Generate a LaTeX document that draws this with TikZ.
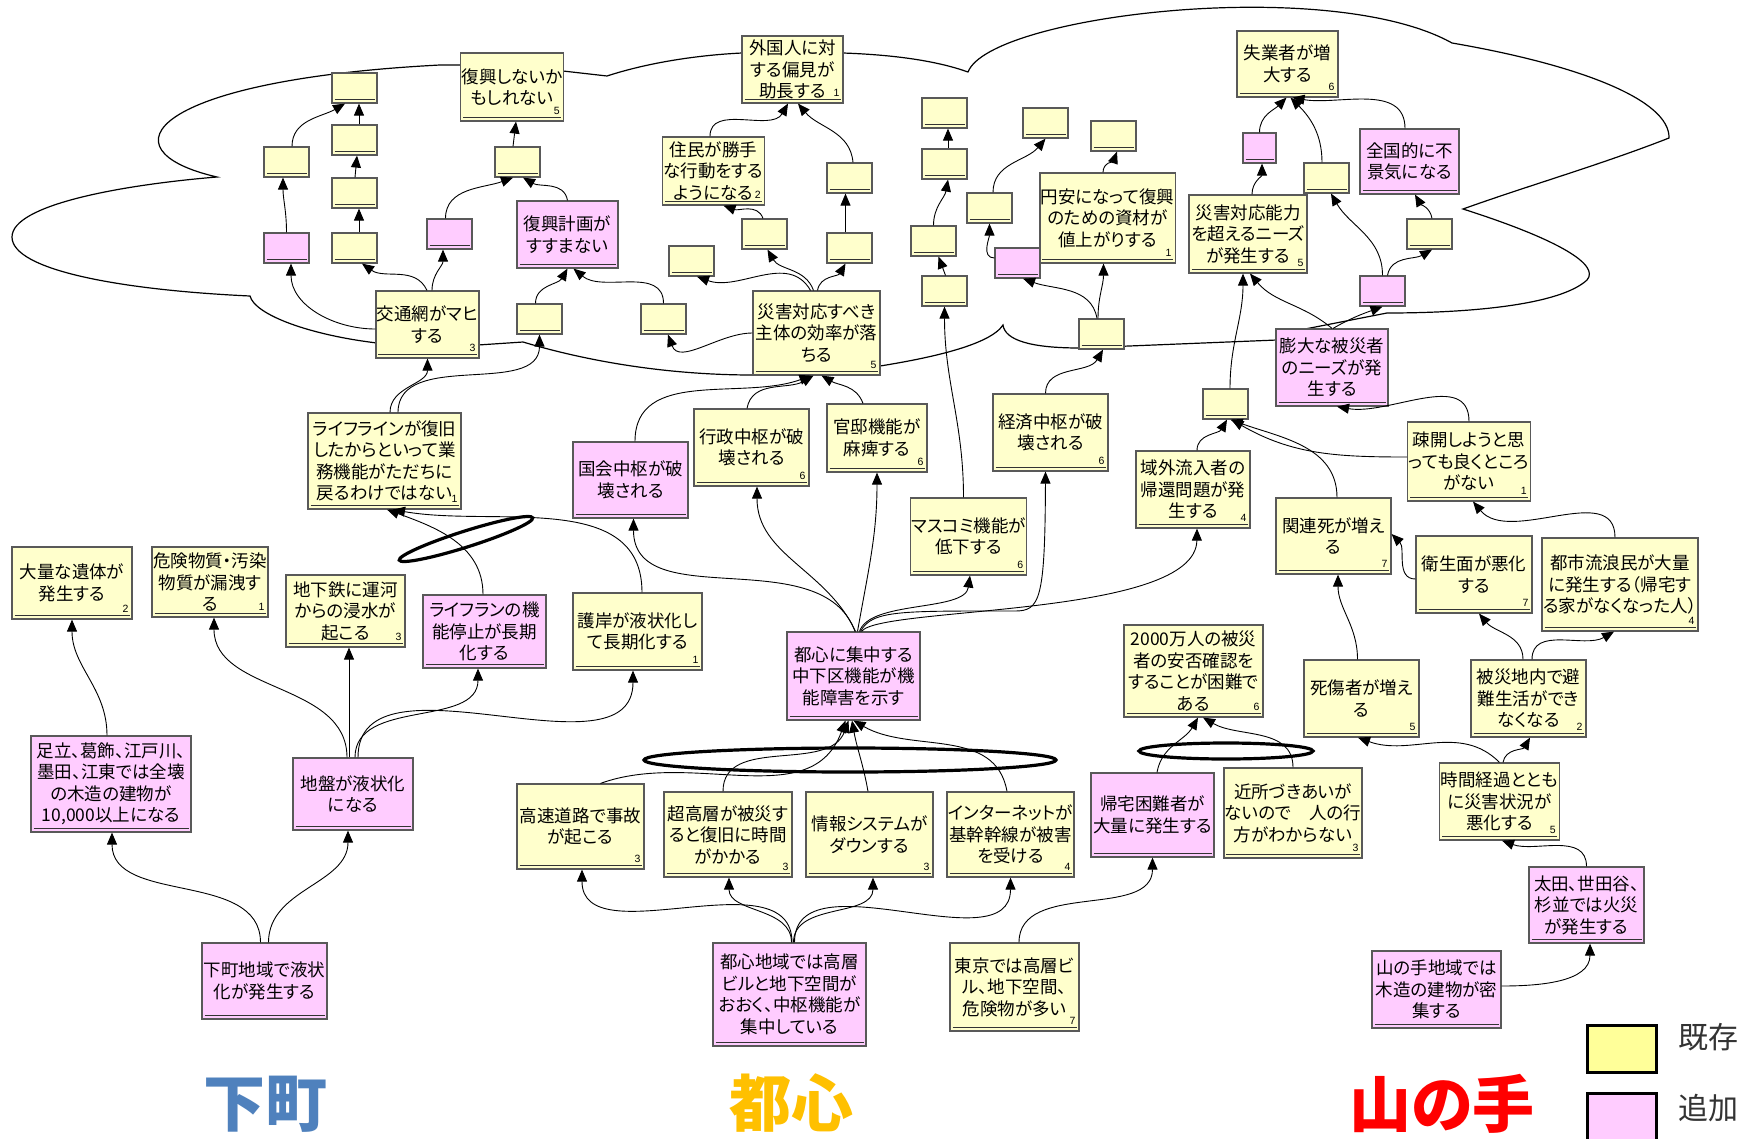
\documentclass[tikz,border=0pt]{standalone}
\usepackage{fontspec}
\setmainfont{Noto Sans CJK JP}[RawFeature=+palt]
\newfontfamily\numfont{Liberation Sans}
\usetikzlibrary{arrows.meta}
\definecolor{ybox}{HTML}{FFFFCC}
\definecolor{pbox}{HTML}{FFCCFF}
\definecolor{bord}{HTML}{595959}
\definecolor{lgy}{HTML}{FFFF99}
\definecolor{shitablue}{HTML}{4F81BD}
\definecolor{toshinorange}{HTML}{FFC000}
\tikzset{
 base/.style={draw=bord, line width=1.2pt, inner sep=1pt, align=center,
   font=\fontsize{17.5}{21.5}\selectfont,
   path picture={\draw[line width=1.3pt, black!80]
     ([xshift=2.5pt,yshift=3.5pt]path picture bounding box.south west) --
     ([xshift=-2.5pt,yshift=3.5pt]path picture bounding box.south east);}},
 yb/.style={base, fill=ybox},
 pb/.style={base, fill=pbox},
 nb/.style={label={[anchor=south east, inner sep=0pt, xshift=-4pt, yshift=7pt,
   font=\numfont\fontsize{10.5}{11}\selectfont]south east:#1}},
 arr/.style={-{Triangle[length=12pt,width=10pt]}, line width=0.9pt},
 cloudline/.style={line width=1.2pt},
 ring/.style={line width=3.2pt},
 biglbl/.style={font=\fontsize{62}{62}\selectfont\bfseries},
 legtxt/.style={font=\fontsize{30}{30}\selectfont, text=black!80, anchor=west},
}
\newcommand{\kb}[7]{\node[#2, minimum width={#5-#3}, minimum height={#6-#4}] (#1) at ({(#3+#5)/2},{-(#4+#6)/2}) {#7};}
\begin{document}
\begin{tikzpicture}[x=1pt,y=1pt]
\useasboundingbox (0,0) rectangle (1740,-1138);
\fill[white] (0,0) rectangle (1740,-1138);

% cloud outline
\draw[cloudline] (217,-177) .. controls (100,-150) and (150,-80) .. (440,-65) -- (462,-65) -- (563,-71) -- (607,-76)
 .. controls (650,-62) and (700,-55) .. (742,-53) -- (843,-53)
 .. controls (900,-55) and (940,-62) .. (968,-72)
 .. controls (990,-15) and (1330,25) .. (1452,-43)
 .. controls (1580,-65) and (1670,-100) .. (1669,-138)
 .. controls (1600,-165) and (1530,-185) .. (1463,-209)
 .. controls (1560,-240) and (1600,-265) .. (1587,-280)
 .. controls (1560,-305) and (1470,-313) .. (1387,-313)
 -- (1300,-330) -- (1277,-340) -- (1080,-348)
 .. controls (1030,-348) and (1005,-340) .. (1003,-325)
 .. controls (990,-345) and (930,-358) .. (880,-366) -- (753,-375)
 .. controls (680,-375) and (600,-365) .. (523,-342) -- (478,-345) -- (377,-343)
 .. controls (310,-335) and (255,-315) .. (250,-296)
 .. controls (120,-290) and (12,-270) .. (12,-237)
 .. controls (12,-205) and (120,-185) .. (217,-177) -- cycle;

% empty boxes
\kb{A1}{yb}{332}{73}{377}{103}{}
\kb{A2}{yb}{332}{125}{377}{155}{}
\kb{A3}{yb}{332}{178}{377}{208}{}
\kb{A4}{yb}{332}{233}{377}{263}{}
\kb{B1}{yb}{264}{147}{309}{177}{}
\kb{B2}{pb}{264}{233}{309}{263}{}
\kb{C1}{pb}{427}{219}{472}{249}{}
\kb{D1}{yb}{495}{147}{540}{177}{}
\kb{D2}{yb}{517}{304}{562}{334}{}
\kb{D3}{yb}{641}{304}{686}{334}{}
\kb{E1}{yb}{669}{246}{714}{276}{}
\kb{E2}{yb}{742}{219}{787}{249}{}
\kb{E3}{yb}{827}{163}{872}{193}{}
\kb{E4}{yb}{827}{233}{872}{263}{}
\kb{F1}{yb}{922}{98}{967}{128}{}
\kb{F2}{yb}{922}{149}{967}{179}{}
\kb{F3}{yb}{911}{226}{956}{256}{}
\kb{F4}{yb}{922}{276}{967}{306}{}
\kb{G1}{yb}{1023}{108}{1068}{138}{}
\kb{G2}{yb}{967}{193}{1012}{223}{}
\kb{G3}{pb}{995}{248}{1040}{278}{}
\kb{H1}{yb}{1091}{121}{1136}{151}{}
\kb{H2}{yb}{1079}{319}{1124}{349}{}
\kb{I1}{pb}{1243}{133}{1276}{163}{}
\kb{J1}{yb}{1304}{163}{1349}{193}{}
\kb{J2}{yb}{1407}{219}{1452}{249}{}
\kb{J3}{pb}{1360}{276}{1405}{306}{}
\kb{K1}{yb}{1203}{389}{1248}{419}{}

% text boxes
\kb{kotsu}{yb,nb=3}{377}{291}{478}{358}{交通網がマヒ\\する}
\kb{fukkoushinai}{yb,nb=5}{462}{53}{562}{121}{復興しないか\\もしれない}
\kb{keikaku}{pb}{517}{201}{618}{268}{復興計画が\\すすまない}
\kb{gaikoku}{yb,nb=1}{742}{36}{843}{103}{外国人に対\\する偏見が\\助長する}
\kb{jumin}{yb,nb=2}{663}{137}{764}{205}{住民が勝手\\な行動をする\\ようになる}
\kb{taiou}{yb,nb=5}{753}{291}{880}{375}{災害対応すべき\\主体の効率が落\\ちる}
\kb{enyasu}{yb,nb=1}{1040}{173}{1175}{263}{円安になって復興\\のための資材が\\値上がりする}
\kb{shitsugyo}{yb,nb=6}{1237}{31}{1338}{97}{失業者が増\\大する}
\kb{nouryoku}{yb,nb=5}{1189}{195}{1307}{273}{災害対応能力\\を超えるニーズ\\が発生する}
\kb{zenkoku}{pb}{1360}{129}{1459}{194}{全国的に不\\景気になる}
\kb{boudai}{pb}{1276}{329}{1388}{406}{膨大な被災者\\のニーズが発\\生する}
\kb{lifeline}{yb,nb=1}{308}{413}{461}{509}{ライフラインが復旧\\したからといって業\\務機能がただちに\\戻るわけではない}
\kb{taryo}{yb,nb=2}{12}{547}{132}{619}{大量な遺体が\\発生する}
\kb{kiken}{yb,nb=1}{152}{547}{268}{617}{危険物質・汚染\\物質が漏洩す\\る}
\kb{chikatetsu}{yb,nb=3}{286}{575}{405}{647}{地下鉄に運河\\からの浸水が\\起こる}
\kb{lifelan}{pb}{423}{595}{546}{668}{ライフランの機\\能停止が長期\\化する}
\kb{gogan}{yb,nb=1}{573}{593}{702}{670}{護岸が液状化し\\て長期化する}
\kb{kokkai}{pb}{573}{442}{688}{518}{国会中枢が破\\壊される}
\kb{gyosei}{yb,nb=6}{694}{409}{809}{486}{行政中枢が破\\壊される}
\kb{kantei}{yb,nb=6}{827}{404}{927}{472}{官邸機能が\\麻痺する}
\kb{masukomi}{yb,nb=6}{911}{498}{1026}{575}{マスコミ機能が\\低下する}
\kb{keizai}{yb,nb=6}{993}{394}{1108}{471}{経済中枢が破\\壊される}
\kb{ikigai}{yb,nb=4}{1136}{451}{1250}{528}{域外流入者の\\帰還問題が発\\生する}
\kb{kanrenshi}{yb,nb=7}{1276}{498}{1391}{574}{関連死が増え\\る}
\kb{sokai}{yb,nb=1}{1409}{422}{1529}{501}{疎開しようと思\\っても良くところ\\がない}
\kb{eisei}{yb,nb=7}{1416}{536}{1532}{613}{衛生面が悪化\\する}
\kb{ruro}{yb,nb=4}{1542}{538}{1698}{631}{都市流浪民が大量\\に発生する（帰宅す\\る家がなくなった人）}
\kb{shuchu}{pb}{787}{632}{920}{720}{都心に集中する\\中下区機能が機\\能障害を示す}
\kb{anpi}{yb,nb=6}{1124}{625}{1263}{717}{2000万人の被災\\者の安否確認を\\することが困難で\\ある}
\kb{shisho}{yb,nb=5}{1304}{660}{1419}{737}{死傷者が増え\\る}
\kb{hinan}{yb,nb=2}{1471}{660}{1586}{737}{被災地内で避\\難生活ができ\\なくなる}
\kb{adachi}{pb}{31}{736}{191}{832}{足立、葛飾、江戸川、\\墨田、江東では全壊\\の木造の建物が\\10,000以上になる}
\kb{jiban}{pb}{293}{758}{413}{830}{地盤が液状化\\になる}
\kb{shitamachi}{pb}{202}{943}{327}{1019}{下町地域で液状\\化が発生する}
\kb{kosoku}{yb,nb=3}{517}{784}{644}{869}{高速道路で事故\\が起こる}
\kb{chokoso}{yb,nb=3}{664}{792}{792}{877}{超高層が被災す\\ると復旧に時間\\がかかる}
\kb{toshinchiiki}{pb}{713}{943}{866}{1046}{都心地域では高層\\ビルと地下空間が\\おおく、中枢機能が\\集中している}
\kb{joho}{yb,nb=3}{806}{792}{933}{877}{情報システムが\\ダウンする}
\kb{internet}{yb,nb=4}{947}{792}{1074}{877}{インターネットが\\基幹幹線が被害\\を受ける}
\kb{kitaku}{pb}{1091}{773}{1214}{857}{帰宅困難者が\\大量に発生する}
\kb{kinjo}{yb,nb=3}{1226}{768}{1360}{858}{近所づきあいが\\ないので　人の行\\方がわからない}
\kb{tokyo}{yb,nb=7}{950}{943}{1079}{1031}{東京では高層ビ\\ル、地下空間、\\危険物が多い}
\kb{jikan}{yb,nb=5}{1442}{763}{1557}{840}{時間経過ととも\\に災害状況が\\悪化する}
\kb{ota}{pb}{1529}{867}{1644}{943}{太田、世田谷、\\杉並では火災\\が発生する}
\kb{yamanote}{pb}{1372}{951}{1501}{1028}{山の手地域では\\木造の建物が密\\集する}

% connectors: shitamachi area
\draw[arr] ([xshift=-4]shitamachi.north) to[out=90,in=-90] ([xshift=1]adachi.south);
\draw[arr] ([xshift=4]shitamachi.north) to[out=90,in=-90] ([xshift=-5]jiban.south);
\draw[arr] ([xshift=-4]adachi.north) to[out=90,in=-90] (taryo.south);
\draw[arr] ([xshift=-6]jiban.north) to[out=90,in=-90] ([xshift=4]kiken.south);
\draw[arr] ([xshift=-4]jiban.north) -- ([xshift=3.5]chikatetsu.south);
\draw[arr] ([xshift=2]jiban.north) to[out=90,in=-90] ([xshift=-6.5]lifelan.south);
\draw[arr] ([xshift=5]jiban.north) to[out=90,in=-90] ([xshift=-4.5]gogan.south);
\draw[arr] ([xshift=-1.5]lifelan.north) to[out=90,in=-20] ([xshift=2.5]lifeline.south);
\draw[arr] ([xshift=4.5]gogan.north) to[out=90,in=-10] ([xshift=8.5]lifeline.south);
\draw[arr] ([xshift=5.5]lifeline.north) to[out=90,in=-90] (kotsu.south);
\draw[arr] ([xshift=13.5]lifeline.north) to[out=90,in=-90] (D2.south);

% top-left cloud
\draw[arr] ([yshift=-4.5]kotsu.west) to[out=180,in=-90] ([xshift=4.5]B2.south);
\draw[arr] ([xshift=-0.5]kotsu.north) to[out=115,in=-35] ([xshift=7.5]A4.south);
\draw[arr] ([xshift=4.5]kotsu.north) to[out=90,in=-90] ([xshift=-6.5]C1.south);
\draw[arr] (B2.north) to[out=90,in=-90] ([xshift=-3.5]B1.south);
\draw[arr] ([xshift=5.5]B1.north) to[out=90,in=-150] ([xshift=-9.5]A1.south);
\draw[arr] ([xshift=4.5]A2.north) -- ([xshift=4.5]A1.south);
\draw[arr] ([xshift=0.5]A3.north) -- ([xshift=2.5]A2.south);
\draw[arr] ([xshift=4.5]A4.north) -- ([xshift=4.5]A3.south);
\draw[arr] ([xshift=-4]C1.north) to[out=90,in=-160] ([xshift=-4.5]D1.south);
\draw[arr] (keikaku.north) to[out=100,in=-30] ([xshift=5.5]D1.south);
\draw[arr] ([xshift=-4.5]D1.north) -- ([xshift=4]fukkoushinai.south);
\draw[arr] ([xshift=-4]D2.north) to[out=90,in=-120] (keikaku.south);
\draw[arr] (D3.north) to[out=90,in=-40] ([xshift=6]keikaku.south);
\draw[arr] (taiou.west) to[out=180,in=-70] ([xshift=4.5]D3.south);
\draw[arr] ([xshift=-6]taiou.north) to[out=120,in=-20] ([xshift=5.5]E1.south);
\draw[arr] ([xshift=-3]taiou.north) to[out=110,in=-60] ([xshift=3]E2.south);
\draw[arr] ([xshift=1]taiou.north) to[out=80,in=-120] ([xshift=-4]E4.south);
\draw[arr] ([xshift=-4]E4.north) -- ([xshift=-4]E3.south);
\draw[arr] ([xshift=3.5]E3.north) to[out=95,in=-50] ([xshift=5.5]gaikoku.south);
\draw[arr] ([xshift=-3.5]jumin.north) to[out=90,in=-120] ([xshift=-4.5]gaikoku.south);
\draw[arr] ([xshift=-1.5]E2.north) to[out=110,in=-20] ([xshift=10]jumin.south);

% middle / right cloud
\draw[arr] ([xshift=1]F4.north) -- ([xshift=5]F3.south);
\draw[arr] (F3.north) to[out=90,in=-100] ([xshift=3.5]F2.south);
\draw[arr] ([xshift=3.5]F2.north) -- ([xshift=3.5]F1.south);
\draw[arr] ([xshift=-5]masukomi.north) to[out=90,in=-90] (F4.south);
\draw[arr] ([yshift=5]G3.west) to[out=180,in=-90] (G2.south);
\draw[arr] ([xshift=3.5]G2.north) to[out=90,in=-130] (G1.south);
\draw[arr] ([xshift=-4.5]H2.north) to[out=100,in=-20] ([xshift=5.5]G3.south);
\draw[arr] ([xshift=-3.5]H2.north) to[out=90,in=-90] ([xshift=-4]enyasu.south);
\draw[arr] ([xshift=-4.5]enyasu.north) to[out=90,in=-110] ([xshift=3.5]H1.south);
\draw[arr] ([xshift=-5]keizai.north) to[out=90,in=-120] ([xshift=1.5]H2.south);
\draw[arr] ([xshift=4.5]K1.north) to[out=90,in=-90] ([xshift=-5]nouryoku.south);
\draw[arr] (boudai.north) to[out=140,in=-50] ([xshift=2]nouryoku.south);
\draw[arr] ([xshift=1]boudai.north) to[out=30,in=-160] (J3.south);
\draw[arr] (J3.north) to[out=90,in=-60] ([xshift=4.5]J1.south);
\draw[arr] ([xshift=5]J3.north) to[out=80,in=-150] ([xshift=2.5]J2.south);
\draw[arr] ([xshift=2.5]J2.north) to[out=100,in=-60] ([xshift=5.5]zenkoku.south);
\draw[arr] ([xshift=-4.5]zenkoku.north) to[out=90,in=-10] ([xshift=5]shitsugyo.south);
\draw[arr] ([xshift=-4.5]J1.north) to[out=90,in=-45] ([xshift=3]shitsugyo.south);
\draw[arr] (I1.north) to[out=90,in=-135] ([xshift=-1]shitsugyo.south);
\draw[arr] ([xshift=4]nouryoku.north) to[out=90,in=-90] ([xshift=2.5]I1.south);

% right lower
\draw[arr] ([xshift=4]ikigai.north) to[out=90,in=-120] ([xshift=1.5]K1.south);
\draw[arr] ([xshift=3.5]kanrenshi.north) to[out=90,in=-20] ([xshift=5]K1.south);
\draw[arr] ([yshift=4.5]sokai.west) to[out=180,in=-30] ([xshift=6]K1.south);
\draw[arr] (sokai.north) to[out=90,in=-10] ([xshift=5]boudai.south);
\draw[arr] ([yshift=-4.5]eisei.west) to[out=180,in=-45] ([yshift=2]kanrenshi.east);
\draw[arr] ([xshift=-5]ruro.north) to[out=90,in=-50] ([xshift=4]sokai.south);
\draw[arr] ([xshift=-5.5]hinan.north) to[out=90,in=-50] ([xshift=5]eisei.south);
\draw[arr] ([xshift=3.5]hinan.north) to[out=90,in=-150] ([xshift=-6]ruro.south);
\draw[arr] ([xshift=-4]shisho.north) to[out=90,in=-90] ([xshift=4.5]kanrenshi.south);
\draw[arr] (jikan.north) to[out=135,in=-20] ([xshift=-3.5]shisho.south);
\draw[arr] ([xshift=3.5]jikan.north) to[out=80,in=-120] ([xshift=1.5]hinan.south);
\draw[arr] (ota.north) to[out=90,in=-20] ([xshift=2.5]jikan.south);
\draw[arr] ([yshift=3.5]yamanote.east) to[out=0,in=-90] ([xshift=3.5]ota.south);

% center
\draw[arr] ([xshift=2.5]toshinchiiki.north) to[out=90,in=-90] ([xshift=1.5]kosoku.south);
\draw[arr] ([xshift=2]toshinchiiki.north) to[out=90,in=-90] ([xshift=1]chokoso.south);
\draw[arr] ([xshift=4]toshinchiiki.north) to[out=90,in=-90] ([xshift=3.5]joho.south);
\draw[arr] ([xshift=5]toshinchiiki.north) to[out=90,in=-90] (internet.south);
\draw[arr] ([xshift=4.5]tokyo.north) to[out=90,in=-90] (kitaku.south);
\draw[arr] ([xshift=4.5]kitaku.north) to[out=80,in=-120] ([xshift=4.5]anpi.south);
\draw[arr] (kinjo.north) to[out=90,in=-30] ([xshift=9.5]anpi.south);
\draw[arr] ([xshift=20]kosoku.north) to[out=20,in=-110] ([xshift=-8]shuchu.south);
\draw[arr] ([xshift=-5]chokoso.north) to[out=90,in=-110] ([xshift=-5]shuchu.south);
\draw[arr] ([xshift=-1.5]joho.north) to[out=100,in=-80] ([xshift=-1.5]shuchu.south);
\draw[arr] ([xshift=-3.5]internet.north) to[out=100,in=-30] (shuchu.south);
\draw[arr] ([xshift=1.5]shuchu.north) to[out=110,in=-90] ([xshift=3]kokkai.south);
\draw[arr] ([xshift=2]shuchu.north) to[out=115,in=-90] ([xshift=5.5]gyosei.south);
\draw[arr] ([xshift=4]shuchu.north) to[out=80,in=-90] (kantei.south);
\draw[arr] ([xshift=6]shuchu.north) .. controls (870,-600) and (965,-612) .. ([xshift=1.5]masukomi.south);
\draw[arr] ([xshift=7]shuchu.north) .. controls (872,-610) and (900,-611) .. (1015,-611)
  .. controls (1040,-611) and (1045,-600) .. ([xshift=-5]keizai.south);
\draw[arr] ([xshift=8]shuchu.north) .. controls (880,-606) and (1196,-618) .. ([xshift=4]ikigai.south);
\draw[arr] ([xshift=4.5]kokkai.north) to[out=90,in=-160] ([xshift=-5]taiou.south);
\draw[arr] ([xshift=-4.5]gyosei.north) to[out=80,in=-150] ([xshift=-3]taiou.south);
\draw[arr] ([xshift=-14]kantei.north) to[out=110,in=-30] ([xshift=5]taiou.south);

% rings
\draw[ring, rotate around={17.6:(466,-539)}] (466,-539) ellipse [x radius=70, y radius=8];
\draw[ring] (850,-760) ellipse [x radius=206, y radius=12];
\draw[ring] (1226,-751) ellipse [x radius=87, y radius=8];

% legend
\node[draw, line width=3pt, fill=lgy, minimum width=69, minimum height=47, inner sep=0pt] (legY) at (1621.5,-1048.5) {};
\node[draw, line width=3pt, fill=pbox, minimum width=69, minimum height=50, inner sep=0pt] (legP) at (1621.5,-1118) {};
\node[legtxt] (legYt) at (1675,-1037) {既存};
\node[legtxt] (legPt) at (1675,-1108) {追加};

% area labels
\node[biglbl, text=shitablue] (lblS) at (265,-1104) {下町};
\node[biglbl, text=toshinorange] (lblT) at (791,-1103) {都心};
\node[biglbl, text=red] (lblY) at (1442,-1104) {山の手};
\end{tikzpicture}
\end{document}
